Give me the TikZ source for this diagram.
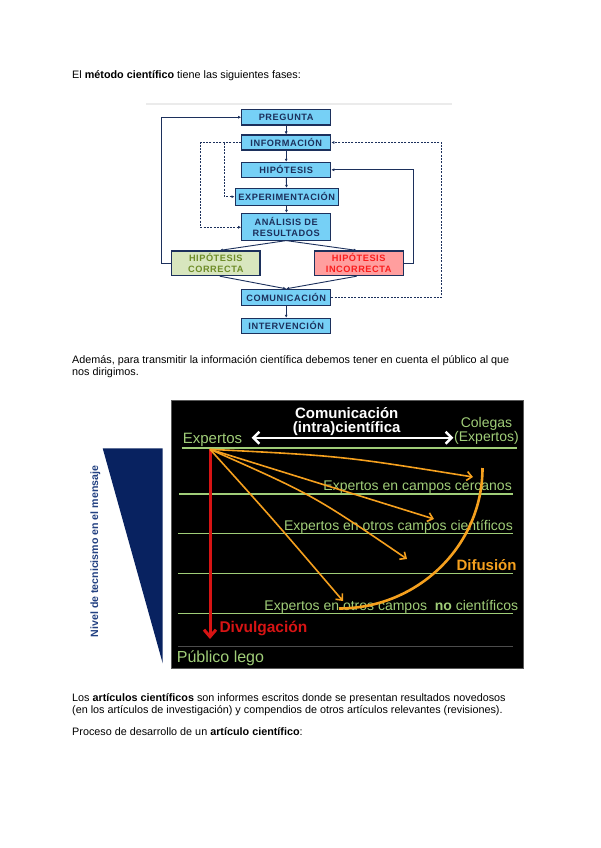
\documentclass[tikz,border=0pt]{standalone}
\usepackage{fontspec}
\setmainfont{Liberation Sans}
\newfontfamily\boxfont{Liberation Sans}[LetterSpace=6]
\usetikzlibrary{arrows.meta,calc}
\definecolor{navyT}{RGB}{28,48,92}
\definecolor{boxblue}{RGB}{118,208,246}
\definecolor{boxgreen}{RGB}{216,230,190}
\definecolor{boxpink}{RGB}{255,158,158}
\definecolor{txtgreen}{RGB}{110,140,40}
\definecolor{txtred}{RGB}{250,30,30}
\definecolor{chgreen}{RGB}{160,205,120}
\definecolor{chorange}{RGB}{245,160,30}
\definecolor{chred}{RGB}{215,20,20}
\definecolor{trinavy}{RGB}{8,34,96}
\definecolor{trinavytxt}{RGB}{35,65,130}
\tikzset{
  fbox/.style={draw=navyT, line width=1.1pt, fill=boxblue, minimum width=89pt, minimum height=15pt,
    inner sep=0pt, text=navyT, align=center, font=\boxfont\bfseries\fontsize{9.2}{10.7}\selectfont},
  farrow/.style={draw=navyT, line width=0.9pt, -{Latex[length=3pt,width=3pt]}},
  fdash/.style={farrow, dash pattern=on 2pt off 1.3pt},
  body/.style={anchor=base west, inner sep=0pt, font=\fontsize{10.8}{12}\selectfont},
  gline/.style={draw=chgreen, line width=1.4pt},
  gtext/.style={text=chgreen, inner sep=0pt, font=\fontsize{14}{16}\selectfont},
  oarrow/.style={draw=chorange, line width=1.6pt, -{Straight Barb[length=5pt,width=9pt]}},
}
\begin{document}
\begin{tikzpicture}[x=1pt,y=-1pt]
\useasboundingbox (0,0) rectangle (600,848);
\fill[white] (0,0) rectangle (600,848);

% ---------- body text ----------
\node[body] (t1) at (72,79) {El \textbf{método científico} tiene las siguientes fases:};
\node[body] (t2) at (72,363.3) {Además, para transmitir la información científica debemos tener en cuenta el público al que};
\node[body] (t3) at (72,375.3) {nos dirigimos.};
\node[body] (t4) at (72,701.5) {Los \textbf{artículos científicos} son informes escritos donde se presentan resultados novedosos};
\node[body] (t5) at (72,713.5) {(en los artículos de investigación) y compendios de otros artículos relevantes (revisiones).};
\node[body] (t6) at (72,735) {Proceso de desarrollo de un \textbf{artículo científico}:};

% ---------- flowchart ----------
\draw[draw=black!8, line width=1.2pt] (146,104) coordinate (gl1) -- (452,104) coordinate (gl2);

\node[fbox, minimum height=15.7pt] (P) at (286.2,117.2) {PREGUNTA};
\node[fbox] (I) at (286.2,142.5) {INFORMACIÓN};
\node[fbox] (H) at (286.2,169.8) {HIPÓTESIS};
\node[fbox, minimum width=103.3pt, minimum height=16.7pt] (E) at (286.7,196.7) {EXPERIMENTACIÓN};
\node[fbox, minimum height=26.7pt] (A) at (286.2,226.7) {ANÁLISIS DE\\RESULTADOS};
\node[fbox, fill=boxgreen, text=txtgreen, minimum width=88.3pt, minimum height=24.7pt] (HC) at (215.8,263.3) {HIPÓTESIS\\CORRECTA};
\node[fbox, fill=boxpink, text=txtred, minimum width=89.3pt, minimum height=24.7pt] (HI) at (358.7,263.3) {HIPÓTESIS\\INCORRECTA};
\node[fbox, minimum height=15.7pt] (C) at (286.2,297.2) {COMUNICACIÓN};
\node[fbox] (IV) at (286.2,325.8) {INTERVENCIÓN};

\draw[farrow] (P) -- (I);
\draw[farrow] (I) -- (H);
\draw[farrow] (H) -- (E);
\draw[farrow] (E) -- (A);
\draw[farrow] (A.south) -- ($(HC.north)+(4,0)$);
\draw[farrow] (A.south) -- ($(HI.north)+(-2,0)$);
\draw[farrow] ($(HC.south)+(4,0)$) -- (C.north);
\draw[farrow] ($(HI.south)+(-2,0)$) -- (C.north);
\draw[farrow] (C) -- (IV);
\draw[farrow] (HC.west) -- ++(-9.4,0) |- (P.west);
\draw[farrow] (HI.east) -- ++(10,0) |- (H.east);
\draw[fdash] (C.east) -- ++(110.3,0) |- (I.east);
\draw[fdash] (I.west) -- ++(-40.7,0) |- ($(A.west)+(0,0.6)$);
\coordinate (br) at ($(I.west)+(-16.7,0)$);
\draw[fdash] (br) |- (E.west);

% ---------- chart ----------
\fill[trinavy] (102.7,448.3) coordinate (tA) -- (162.7,448.3) coordinate (tB) -- (162.7,663.3) coordinate (tC) -- cycle;
\node[rotate=90, text=trinavytxt, inner sep=0pt, font=\bfseries\fontsize{10.6}{12}\selectfont] (nivel) at (95.5,551.5) {Nivel de tecnicismo en el mensaje};

\draw[fill=black, draw=black!65, line width=0.6pt] (171.7,400) rectangle (523.3,668.3);

\draw[gline, line width=2pt] (181.7,448.3) coordinate (g1a) -- (516.7,448.3) coordinate (g1b);
\draw[gline] (179.3,494) coordinate (g2a) -- (513.3,494) coordinate (g2b);
\draw[gline] (178.3,533.3) coordinate (g3a) -- (513.3,533.3) coordinate (g3b);
\draw[gline] (178.3,573.3) coordinate (g4a) -- (513.3,573.3) coordinate (g4b);
\draw[gline] (178.3,613.3) coordinate (g5a) -- (513.3,613.3) coordinate (g5b);
\draw[draw=black!70!white, line width=0.8pt] (178.3,646.7) coordinate (g6a) -- (513.3,646.7) coordinate (g6b);

\node[text=white, inner sep=0pt, align=center, anchor=base, font=\bfseries\fontsize{15}{13.6}\selectfont] (com) at (346.7,432) {Comunicación\\(intra)científica};
\node[gtext, anchor=base west, font=\fontsize{15}{17}\selectfont] (exp) at (182.7,443.3) {Expertos};
\node[gtext, anchor=base, align=center, font=\fontsize{14}{11.7}\selectfont] (col) at (486.5,441.7) {Colegas\\(Expertos)};
\coordinate (wa) at (251.7,437.7);
\coordinate (wb) at (453.3,437.7);
\draw[draw=white, line width=2.4pt, {Straight Barb[length=6pt,width=12pt]}-{Straight Barb[length=6pt,width=12pt]}] (wa) -- (wb);

\node[gtext, anchor=base east] (cerc) at (512,490.7) {Expertos en campos cercanos};
\node[gtext, anchor=base east] (otros) at (513,530) {Expertos en otros campos científicos};
\node[gtext, anchor=base east] (noc) at (518.3,610) {Expertos en otros campos\ \ \textbf{no} científicos};
\node[text=chorange, anchor=base east, inner sep=0pt, font=\bfseries\fontsize{15}{17}\selectfont] (dif) at (516.7,570) {Difusión};
\node[text=chred, anchor=base west, inner sep=0pt, font=\bfseries\fontsize{15.5}{17}\selectfont] (div) at (219.3,632.7) {Divulgación};
\node[gtext, anchor=base west, font=\fontsize{16}{18}\selectfont] (pub) at (176.7,662.3) {Público lego};

% red divulgation arrow
\coordinate (orig) at (210,449.3);
\coordinate (redend) at (210,639);
\draw[draw=chred, line width=3pt, -{Straight Barb[length=7pt,width=12pt]}] (orig) -- (redend);

% orange arrows
\coordinate (o1) at (473,477);
\coordinate (o2) at (434,519);
\coordinate (o3) at (407,559);
\coordinate (o4) at (343,601);
\draw[oarrow] (orig) .. controls (342,456) .. (o1);
\draw[oarrow] (orig) -- (o2);
\draw[oarrow] (orig) .. controls (313,495) .. (o3);
\draw[oarrow] (orig) .. controls (272,518) .. (o4);

% difusion arc
\coordinate (arcA) at (482.5,468);
\coordinate (arcB) at (339,608.5);
\draw[draw=chorange, line width=2.6pt] (arcA) .. controls (482.5,545.5) and (418,608.5) .. (arcB);
\end{tikzpicture}
\end{document}
